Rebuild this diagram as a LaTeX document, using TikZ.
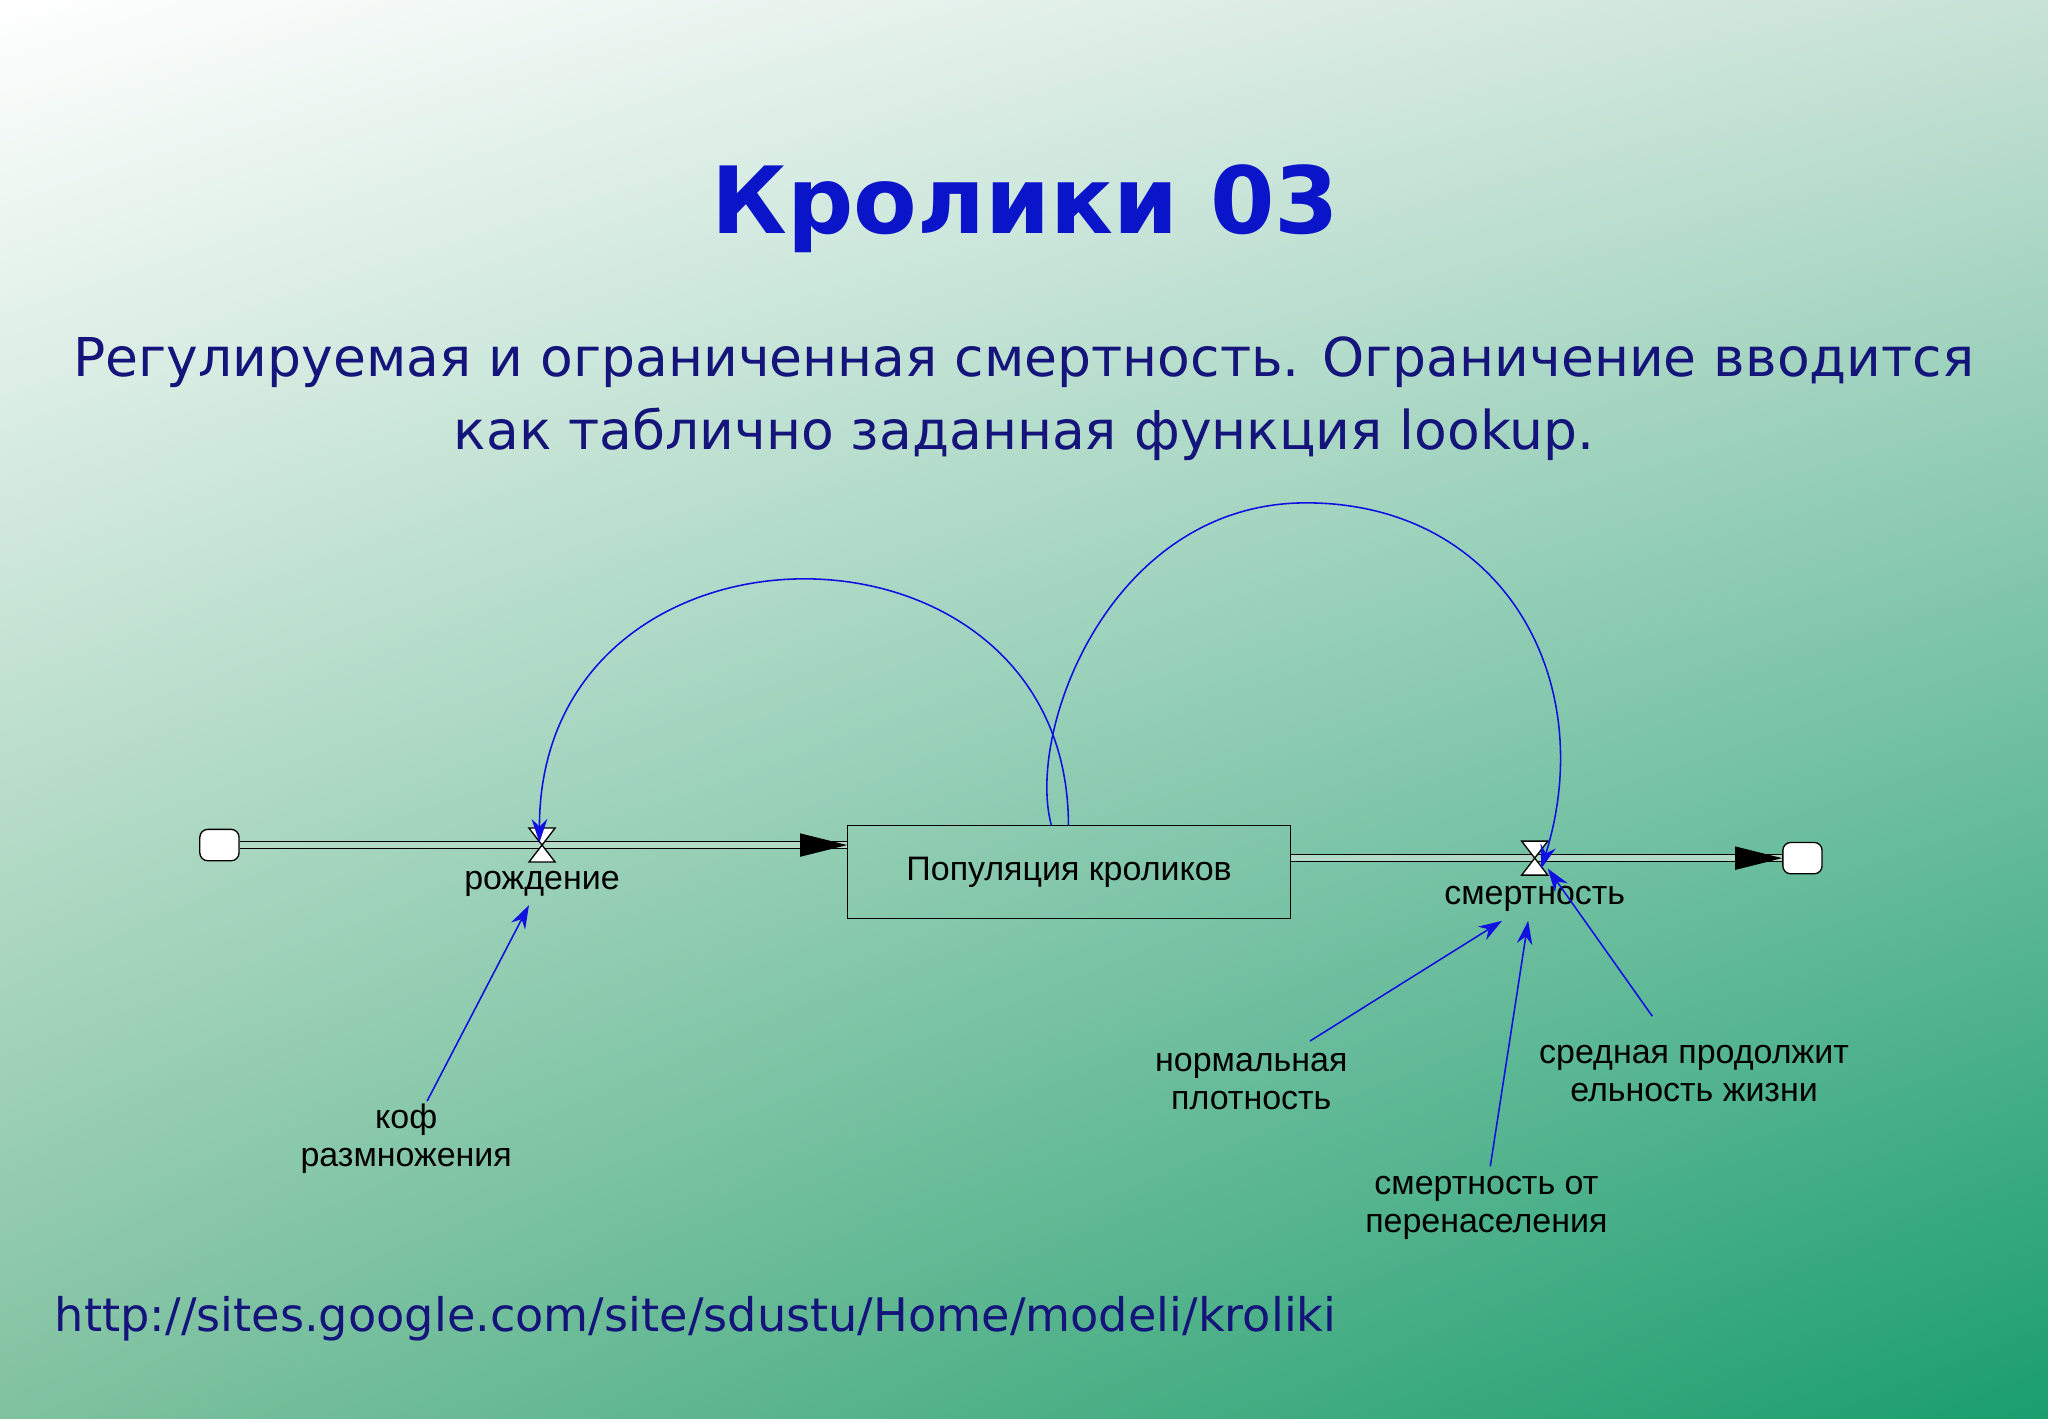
\documentclass[tikz,border=0pt]{standalone}
\usepackage{fontspec}
\setmainfont{DejaVu Sans}
\newfontfamily\arial{Liberation Sans}
\usetikzlibrary{arrows.meta,shadings}
\definecolor{ttl}{HTML}{0A14C8}
\definecolor{nav}{HTML}{14147A}
\definecolor{lnk}{HTML}{1010E0}
\definecolor{bgtr}{HTML}{C8E2D6}
\definecolor{bgbl}{HTML}{80C2A0}
\definecolor{bgbr}{HTML}{1A9E6E}
\begin{document}
\begin{tikzpicture}[x=0.5pt,y=-0.5pt,
  lbl/.style={font=\arial\fontsize{13}{14.5}\selectfont, align=center, inner sep=0pt},
  infl/.style={draw=lnk, line width=0.6pt, -{Stealth[length=9pt,width=6pt]}},
  pipe/.style={double=bgbl!60!white, double distance=2.2pt, line width=0.5pt, draw=black},
  cloud/.style={draw=black, fill=white, line width=0.5pt, rounded corners=3pt, minimum width=15pt, minimum height=12pt, inner sep=0pt}]
\useasboundingbox (0,0) rectangle (1568,1086);
\shade[upper left=white, upper right=bgtr, lower left=bgbl, lower right=bgbr] (0,0) rectangle (1568,1086);
\node[font=\fontsize{35.5}{38}\selectfont\bfseries, text=ttl] (title) at (785,160) {Кролики 03};
\node[font=\fontsize{20.5}{28}\selectfont, text=nav, align=center] (sub) at (784,305) {Регулируемая и ограниченная смертность. Ограничение вводится\\как таблично заданная функция lookup.};
\node[font=\fontsize{17.7}{20}\selectfont, text=nav, anchor=west] (url) at (35,1010) {http://sites.google.com/site/sdustu/Home/modeli/kroliki};
% stock
\node[draw=black, line width=0.5pt, minimum width=169.5pt, minimum height=35.5pt, lbl] (stock) at (818.5,667.5) {Популяция кроликов};
\node[cloud] (c1) at (168,647) {};
\node[cloud] (c2) at (1380,657) {};
\coordinate (sL) at (stock.west|-0,647);
\coordinate (sR) at (stock.east|-0,657);
\draw[pipe] (c1.east) -- (sL);
\draw[pipe] (sR) -- (c2.west);
\fill (sL) -- ++(-36,-9) -- ++(0,18) -- cycle;
\fill (c2.west) -- ++(-36,-9) -- ++(0,18) -- cycle;
% valves
\node[inner sep=0pt, minimum size=9pt] (v1) at (415,647) {};
\draw[fill=white, line width=0.5pt] (405,634) -- (425,634) -- (405,660) -- (425,660) -- cycle;
\node[inner sep=0pt, minimum size=9pt] (v2) at (1175,657) {};
\draw[fill=white, line width=0.5pt] (1165,644) -- (1185,644) -- (1165,670) -- (1185,670) -- cycle;
\node[lbl] (l1) at (415,677) {рождение};
\node[lbl] (l2) at (1175,688) {смертность};
% arcs
\coordinate (a1) at (818,632);
\coordinate (a2) at (805,632);
\draw[infl] (a1) .. controls (818,380) and (413,380) .. (413,645);
\draw[infl] (a2) .. controls (785,560) and (850,385) .. (1000,385) .. controls (1150,385) and (1225,520) .. (1180,665);
% aux
\node[lbl] (k) at (311,872) {коф\\размножения};
\node[lbl] (n) at (958,828) {нормальная\\плотность};
\node[lbl] (p) at (1138,925) {смертность от\\перенаселения};
\node[lbl] (s) at (1297,822) {средная продолжит\\ельность жизни};
\draw[infl] (327,843) -- (405,693);
\draw[infl] (1003,797) -- (1150,705);
\draw[infl] (1141,893) -- (1170,705);
\draw[infl] (1265,778) -- (1185,665);
\end{tikzpicture}
\end{document}
